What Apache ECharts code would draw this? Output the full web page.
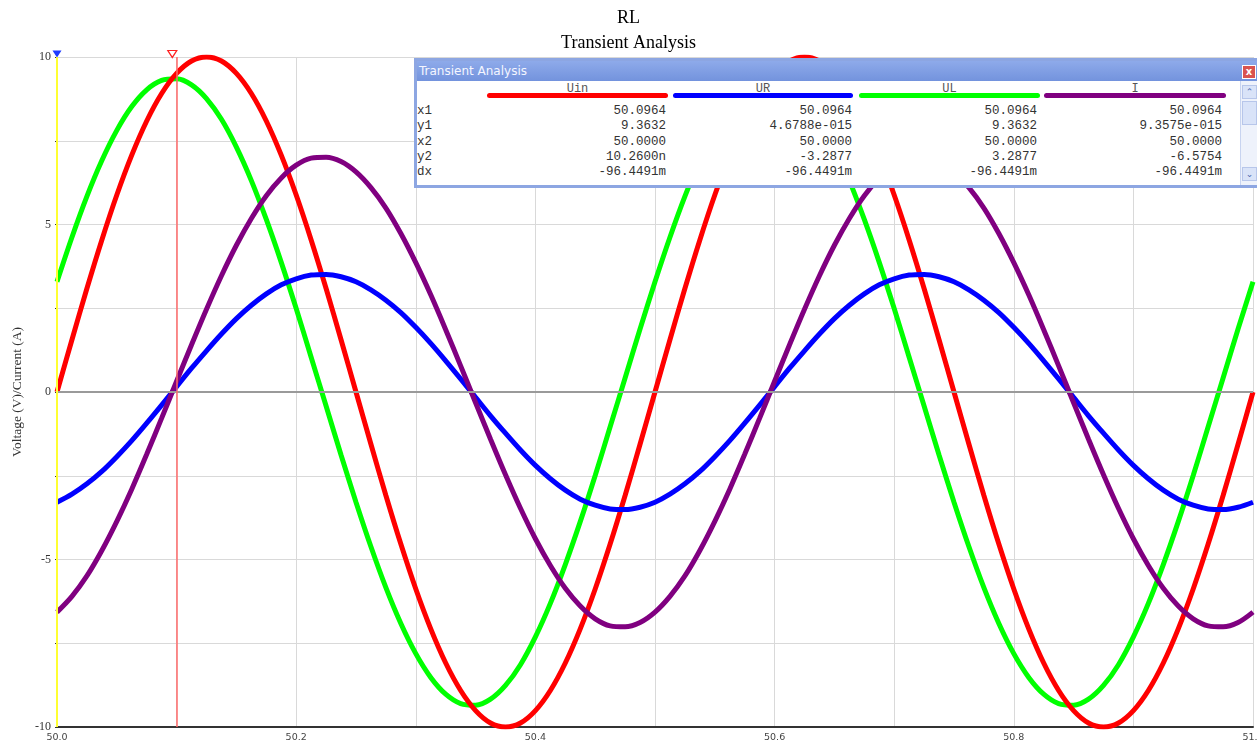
<!DOCTYPE html>
<html><head><meta charset="utf-8">
<script src="https://cdn.jsdelivr.net/npm/echarts@6/dist/echarts.min.js"></script>
<style>
html,body{margin:0;padding:0;background:#fff;overflow:hidden;}
#chart{position:absolute;left:0;top:0;width:1257px;height:749px;}
#topline{position:absolute;left:30px;top:5px;width:1227px;height:1px;background:#e8e8e8;}
#panel{position:absolute;left:414px;top:58px;width:843px;height:130px;background:#fff;
  border:3px solid #8da6e2;border-right:none;box-sizing:border-box;font-family:"Liberation Mono",monospace;}
#ptitle{position:absolute;left:0;top:0;right:0;height:20px;background:linear-gradient(#8eaaea,#7393dd);
  color:#f4f6ff;font:12px "DejaVu Sans",sans-serif;line-height:20px;padding-left:2px;}
.cell{position:absolute;font-size:12.5px;color:#333;line-height:14px;white-space:nowrap;}
.bar{position:absolute;height:5px;border-radius:3px;}
#close{position:absolute;right:1px;top:4px;width:12px;height:12px;background:#d9534f;color:#fff;
  font:bold 10px "DejaVu Sans",sans-serif;text-align:center;line-height:12px;border:1px solid #fff;}
#sb{position:absolute;right:0;top:20px;width:16px;bottom:0;background:#eef2fb;border-left:1px solid #c8d4f0;}
.sbb{position:absolute;left:1px;width:13px;background:#d9e3f8;border:1px solid #b7c6ea;color:#4a66b0;
  font:9px "DejaVu Sans",sans-serif;text-align:center;}
</style></head><body>
<div id="topline"></div>
<div id="chart"></div>
<div id="panel"><div id="ptitle">Transient Analysis</div><div id="close">x</div>
<div id="sb"><div class="sbb" style="top:4px;height:12px;line-height:12px;">&#8963;</div>
<div class="sbb" style="top:20px;height:22px;"></div>
<div class="sbb" style="bottom:4px;height:12px;line-height:12px;">&#8964;</div></div>
</div>
<script>
// ---- data ----
const time = [50.0000,50.0125,50.0250,50.0375,50.0500,50.0625,50.0750,50.0875,50.1000,50.1125,
  50.1250,50.1375,50.1500,50.1625,50.1750,50.1875,50.2000,50.2125,50.2250,50.2375,
  50.2500,50.2625,50.2750,50.2875,50.3000,50.3125,50.3250,50.3375,50.3500,50.3625,
  50.3750,50.3875,50.4000,50.4125,50.4250,50.4375,50.4500,50.4625,50.4750,50.4875,
  50.5000,50.5125,50.5250,50.5375,50.5500,50.5625,50.5750,50.5875,50.6000,50.6125,
  50.6250,50.6375,50.6500,50.6625,50.6750,50.6875,50.7000,50.7125,50.7250,50.7375,
  50.7500,50.7625,50.7750,50.7875,50.8000,50.8125,50.8250,50.8375,50.8500,50.8625,
  50.8750,50.8875,50.9000,50.9125,50.9250,50.9375,50.9500,50.9625,50.9750,50.9875,51.0000];
const uin = [0,1.56,3.09,4.54,5.88,7.07,8.09,8.91,9.51,9.88,10,9.88,9.51,8.91,8.09,7.07,5.88,4.54,3.09,1.56,
  0,-1.56,-3.09,-4.54,-5.88,-7.07,-8.09,-8.91,-9.51,-9.88,-10,-9.88,-9.51,-8.91,-8.09,-7.07,-5.88,-4.54,-3.09,-1.56,
  0,1.56,3.09,4.54,5.88,7.07,8.09,8.91,9.51,9.88,10,9.88,9.51,8.91,8.09,7.07,5.88,4.54,3.09,1.56,
  0,-1.56,-3.09,-4.54,-5.88,-7.07,-8.09,-8.91,-9.51,-9.88,-10,-9.88,-9.51,-8.91,-8.09,-7.07,-5.88,-4.54,-3.09,-1.56,0];
const ur = [-3.29,-3.05,-2.74,-2.37,-1.93,-1.45,-0.93,-0.39,0.16,0.71,1.23,1.73,2.19,2.59,2.93,3.20,3.38,3.49,3.51,3.44,
  3.29,3.05,2.74,2.37,1.93,1.45,0.93,0.39,-0.16,-0.71,-1.23,-1.73,-2.19,-2.59,-2.93,-3.20,-3.38,-3.49,-3.51,-3.44,
  -3.29,-3.05,-2.74,-2.37,-1.93,-1.45,-0.93,-0.39,0.16,0.71,1.23,1.73,2.19,2.59,2.93,3.20,3.38,3.49,3.51,3.44,
  3.29,3.05,2.74,2.37,1.93,1.45,0.93,0.39,-0.16,-0.71,-1.23,-1.73,-2.19,-2.59,-2.93,-3.20,-3.38,-3.49,-3.51,-3.44,-3.29];
const ul = [3.29,4.62,5.84,6.91,7.81,8.52,9.02,9.30,9.35,9.17,8.76,8.14,7.31,6.31,5.15,3.87,2.49,1.04,-0.42,-1.88,
  -3.29,-4.62,-5.84,-6.91,-7.81,-8.52,-9.02,-9.30,-9.35,-9.17,-8.76,-8.14,-7.31,-6.31,-5.15,-3.87,-2.49,-1.04,0.42,1.88,
  3.29,4.62,5.84,6.91,7.81,8.52,9.02,9.30,9.35,9.17,8.76,8.14,7.31,6.31,5.15,3.87,2.49,1.04,-0.42,-1.88,
  -3.29,-4.62,-5.84,-6.91,-7.81,-8.52,-9.02,-9.30,-9.35,-9.17,-8.76,-8.14,-7.31,-6.31,-5.15,-3.87,-2.49,-1.04,0.42,1.88,3.29];
const cur = [-6.57,-6.10,-5.49,-4.73,-3.86,-2.90,-1.86,-0.78,0.32,1.41,2.47,3.47,4.38,5.18,5.86,6.39,6.77,6.98,7.01,6.88,
  6.57,6.10,5.49,4.73,3.86,2.90,1.86,0.78,-0.32,-1.41,-2.47,-3.47,-4.38,-5.18,-5.86,-6.39,-6.77,-6.98,-7.01,-6.88,
  -6.57,-6.10,-5.49,-4.73,-3.86,-2.90,-1.86,-0.78,0.32,1.41,2.47,3.47,4.38,5.18,5.86,6.39,6.77,6.98,7.01,6.88,
  6.57,6.10,5.49,4.73,3.86,2.90,1.86,0.78,-0.32,-1.41,-2.47,-3.47,-4.38,-5.18,-5.86,-6.39,-6.77,-6.98,-7.01,-6.88,-6.57];
const seriesNames = ['Uin','UR','UL','I'];
const seriesColors = ['#ff0000','#0000ff','#00ff00','#800080'];
const cursorX = [50.0964, 50.0];   // x1 (red cursor), x2 (yellow cursor)
const rowLabels = ['x1','y1','x2','y2','dx'];
const colUin = ['50.0964','9.3632','50.0000','10.2600n','-96.4491m'];
const colUR  = ['50.0964','4.6788e-015','50.0000','-3.2877','-96.4491m'];
const colUL  = ['50.0964','9.3632','50.0000','3.2877','-96.4491m'];
const colI   = ['50.0964','9.3575e-015','50.0000','-6.5754','-96.4491m'];
const titleText = 'RL';
const subtitleText = 'Transient Analysis';
const yName = 'Voltage (V)/Current (A)';

// ---- chart ----
const chart = echarts.init(document.getElementById('chart'));
const pts = arr => time.map((t,i)=>[t,arr[i]]);
const mk = (name, arr, color) => ({
  name, type:'line', data:pts(arr), smooth:0.33, showSymbol:false, symbol:'none',
  lineStyle:{color, width:5}, itemStyle:{color}, animation:false, silent:true
});
const s = [
  mk('UL', ul, seriesColors[2]),
  mk('Uin', uin, seriesColors[0]),
  mk('UR', ur, seriesColors[1]),
  mk('I', cur, seriesColors[3]),
  {
    type:'line', data:[], silent:true, animation:false,
    markLine:{silent:true, symbol:['none','none'], label:{show:false}, animation:false,
      data:[
        {yAxis:0, lineStyle:{color:'#9a9a9a', width:2, type:'solid'}},
        {xAxis:cursorX[1], lineStyle:{color:'#ffff33', width:2, type:'solid'}},
        {xAxis:cursorX[0], lineStyle:{color:'#ff6a6a', width:1.5, type:'solid'}}
      ]},
    markPoint:{silent:true, animation:false, label:{show:false},
      data:[
        {coord:[cursorX[1],10], symbol:'triangle', symbolRotate:180, symbolSize:[9,7], symbolOffset:[0,-3],
          itemStyle:{color:'#1f3bff'}},
        {coord:[cursorX[0],10], symbol:'triangle', symbolRotate:180, symbolSize:[9,7], symbolOffset:[0,-3],
          itemStyle:{color:'rgba(255,255,255,0.9)', borderColor:'#ff2020', borderWidth:1.2}}
      ]}
  }
];
chart.setOption({
  animation:false,
  backgroundColor:'#fff',
  title:[
    {text:titleText, left:'center', top:4, textStyle:{fontFamily:'Liberation Serif', fontSize:18, fontWeight:'normal', color:'#000'}},
    {text:subtitleText, left:'center', top:29, textStyle:{fontFamily:'Liberation Serif', fontSize:18, fontWeight:'normal', color:'#000'}}
  ],
  grid:{left:57, right:4, top:57, bottom:22, containLabel:false, outerBoundsMode:'none'},
  xAxis:{type:'value', min:50, max:51, interval:0.1,
    axisLine:{show:true, onZero:false, lineStyle:{color:'#333', width:2}},
    axisTick:{show:false},
    axisLabel:{margin:6, fontFamily:'DejaVu Sans', fontSize:9.5, color:'#444', hideOverlap:false,
      formatter:v=>{const k=Math.round((v-50)*10); return k%2===0 ? v.toFixed(1) : '';}},
    splitLine:{show:true, lineStyle:{color:'#d9d9d9', width:1}}},
  yAxis:{type:'value', min:-10, max:10, interval:2.5,
    name:yName, nameLocation:'middle', nameGap:32, nameRotate:90,
    nameTextStyle:{fontFamily:'Liberation Serif', fontSize:13.5, color:'#333'},
    axisLine:{show:false},
    axisTick:{show:true, inside:false, length:2, lineStyle:{color:'#333'}},
    axisLabel:{margin:6, fontFamily:'Liberation Serif', fontSize:12, color:'#333',
      formatter:v=> (Math.round(v*2)%10===0 ? String(v) : '')},
    splitLine:{show:true, lineStyle:{color:'#d9d9d9', width:1}}},
  series:s
});

// ---- measurement panel ----
const panel = document.getElementById('panel');
const PX = 414+3, PY = 58+3; // inner origin (page coords)
const cols = [colUin, colUR, colUL, colI];
const barSpans = [[487,668],[673,853],[859,1040],[1044,1226]];
const rightEdges = [666,852,1037,1222];
const rowY = [111,126,142,157,172];
function addDiv(cls, css, text){
  const d=document.createElement('div'); d.className=cls; Object.assign(d.style, css);
  if(text!==undefined) d.textContent=text; panel.appendChild(d); return d;
}
seriesNames.forEach((n,i)=>{
  const [a,b]=barSpans[i];
  addDiv('cell',{left:(a-PX)+'px', width:(b-a)+'px', top:(88-6-PY)+'px', textAlign:'center', color:'#555', fontSize:'12px'}, n);
  addDiv('bar',{left:(a-PX)+'px', width:(b-a)+'px', top:(93-PY)+'px', background:seriesColors[i]});
});
rowLabels.forEach((r,j)=>{
  addDiv('cell',{left:(417-PX)+'px', top:(rowY[j]-7-PY)+'px'}, r);
  cols.forEach((c,i)=>{
    addDiv('cell',{left:(rightEdges[i]-150-PX)+'px', width:'150px', textAlign:'right', top:(rowY[j]-7-PY)+'px'}, c[j]);
  });
});
</script>
</body></html>
